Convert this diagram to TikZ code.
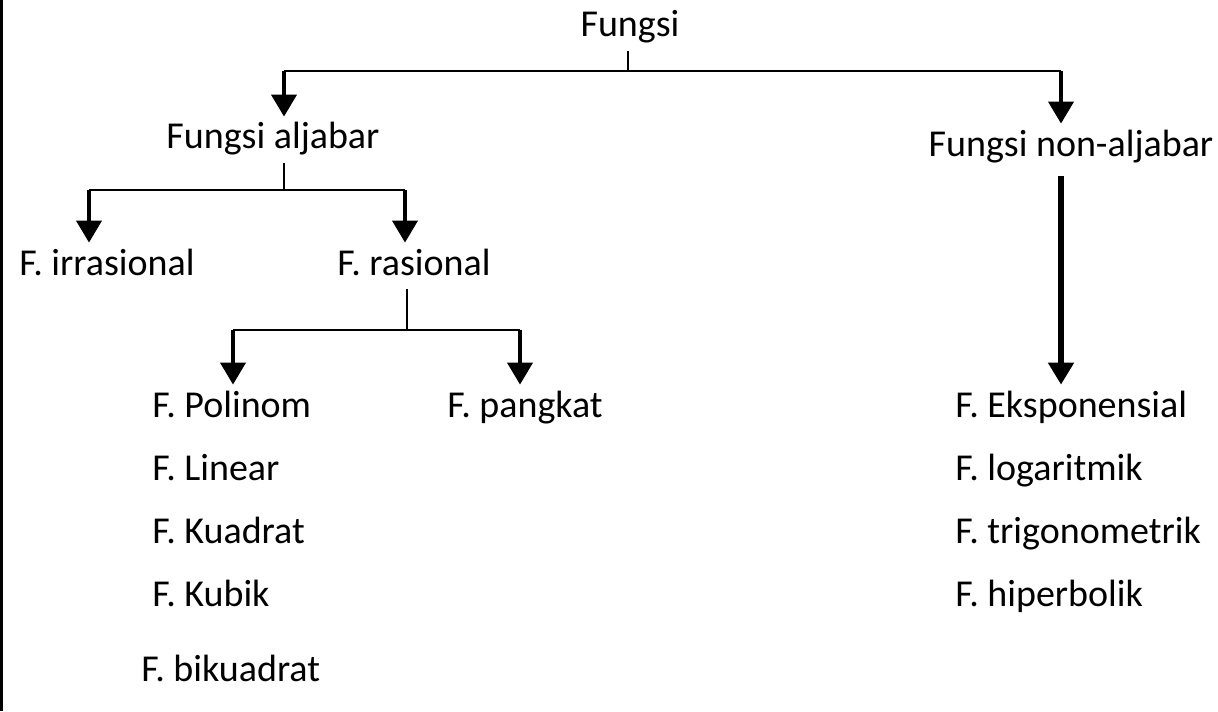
\documentclass[tikz,border=0pt]{standalone}
\usepackage{fontspec}
\setmainfont{Carlito}
\usepackage{tikz}
\usetikzlibrary{
  arrows.meta,
  positioning,
  calc
}

\begin{document}
\begin{tikzpicture}[
    x=0.5pt, y=-0.5pt,
    font=\fontsize{19}{23}\selectfont,
    lbl/.style={
      inner sep=2.5pt, text height=13.5pt, text depth=4.5pt,
      anchor=base
    },
    item/.style={lbl, anchor=base west},
    link/.style={line width=1.3pt},
    arr/.style={-{Triangle[width=12.5pt,length=11pt]}, line width=2pt},
  ]
    \useasboundingbox (0,0) rectangle (1218,711);
    \draw[line width=1.5pt] (1,0) -- (1,711);

    \node[lbl] (fungsi)     at (630,37)  {Fungsi};
    \node[lbl] (aljabar)    at (273,149) {Fungsi aljabar};
    \node[lbl] (nonaljabar) at (1071,156) {Fungsi non-aljabar};
    \node[lbl] (irrasional) at (107,275) {F. irrasional};
    \node[lbl] (rasional)   at (414,275) {F. rasional};

    \node[item] (polinom)   at (147,417) {F. Polinom};
    \node[item] (linear)    at (147,480) {F. Linear};
    \node[item] (kuadrat)   at (147,543) {F. Kuadrat};
    \node[item] (kubik)     at (147,606) {F. Kubik};
    \node[item] (bikuadrat) at (136,681) {F. bikuadrat};
    \node[item] (pangkat)   at (442,417) {F. pangkat};

    \node[item] (eksponensial)  at (950,417) {F. Eksponensial};
    \node[item] (logaritmik)    at (950,480) {F. logaritmik};
    \node[item] (trigonometrik) at (950,543) {F. trigonometrik};
    \node[item] (hiperbolik)    at (950,606) {F. hiperbolik};

    % junctions
    \coordinate (k0)  at (628,71);
    \coordinate (k0l) at (284,71);
    \coordinate (k0r) at (1061,71);
    \coordinate (k1)  at (284,190);
    \coordinate (k1l) at (89,190);
    \coordinate (k1r) at (405,190);
    \coordinate (k2)  at (407,330);
    \coordinate (k2l) at (233,330);
    \coordinate (k2r) at (520,330);

    \draw[link] (fungsi.south -| k0) -- (k0);
    \draw[link] (k0l) -- (k0r);
    \draw[arr]  (k0l) -- (k0l |- aljabar.north);
    \draw[arr]  (k0r) -- (k0r |- nonaljabar.north);

    \draw[link] (aljabar.south -| k1) -- (k1);
    \draw[link] (k1l) -- (k1r);
    \draw[arr]  (k1l) -- (k1l |- irrasional.north);
    \draw[arr]  (k1r) -- (k1r |- rasional.north);

    \draw[link] (rasional.south -| k2) -- (k2);
    \draw[link] (k2l) -- (k2r);
    \draw[arr]  (k2l) -- (k2l |- polinom.north);
    \draw[arr]  (k2r) -- (k2r |- pangkat.north);

    \draw[arr, line width=2.6pt, shorten <=3pt] (nonaljabar.south -| k0r) -- (k0r |- eksponensial.north);
  \end{tikzpicture}
\end{document}
